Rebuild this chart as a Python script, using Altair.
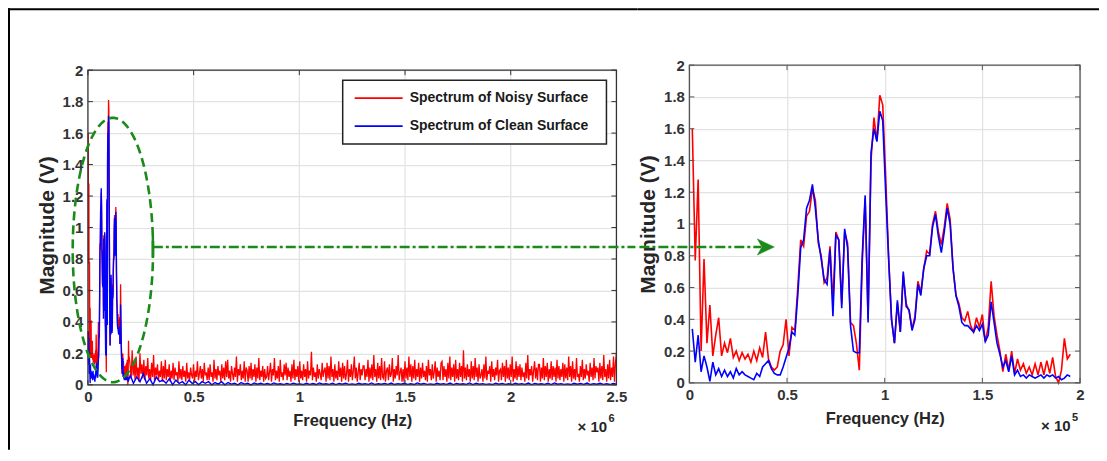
import altair as alt
import numpy as np
import pandas as pd

# ---------------- data ----------------
SERIES = ["Spectrum of Noisy Surface", "Spectrum of Clean Surface"]
COLORS = ["#ff0000", "#0000ff"]

# zoomed spectrum (right panel), frequency bins of 0.015 x10^5 Hz
ZOOM_STEP = 0.015
RED_ZOOM = [
    1.60, 0.77, 1.28, 0.20, 0.78, 0.25, 0.49, 0.17, 0.30, 0.41,
    0.17, 0.25, 0.19, 0.28, 0.16, 0.20, 0.14, 0.19, 0.15, 0.18,
    0.13, 0.20, 0.14, 0.22, 0.16, 0.32, 0.15, 0.10, 0.08, 0.10,
    0.20, 0.24, 0.40, 0.17, 0.35, 0.33, 0.60, 0.90, 0.86, 1.05,
    1.08, 1.22, 1.15, 0.88, 0.80, 0.63, 0.66, 0.86, 0.50, 0.95,
    0.90, 0.50, 0.95, 0.88, 0.38, 0.36, 0.25, 0.08, 0.75, 1.16,
    0.40, 1.40, 1.67, 1.52, 1.81, 1.75, 1.30, 0.80, 0.40, 0.25,
    0.50, 0.32, 0.68, 0.50, 0.45, 0.34, 0.42, 0.64, 0.57, 0.72,
    0.83, 0.81, 1.00, 1.08, 0.95, 0.87, 0.98, 1.13, 1.03, 0.72,
    0.55, 0.50, 0.41, 0.39, 0.45, 0.36, 0.32, 0.41, 0.35, 0.43,
    0.26, 0.35, 0.64, 0.42, 0.30, 0.20, 0.07, 0.18, 0.08, 0.20,
    0.06, 0.15, 0.08, 0.12, 0.06, 0.10, 0.05, 0.12, 0.05, 0.13,
    0.05, 0.14, 0.06, 0.16, 0.04, 0.00, 0.08, 0.28, 0.15, 0.18,
]
BLUE_ZOOM = [
    0.34, 0.13, 0.30, 0.07, 0.17, 0.10, 0.01, 0.13, 0.05, 0.09,
    0.04, 0.08, 0.04, 0.07, 0.03, 0.09, 0.05, 0.07, 0.05, 0.04,
    0.03, 0.02, 0.06, 0.04, 0.10, 0.12, 0.14, 0.09, 0.06, 0.05,
    0.05, 0.10, 0.16, 0.22, 0.32, 0.30, 0.55, 0.85, 0.90, 1.10,
    1.15, 1.25, 1.10, 0.90, 0.78, 0.65, 0.62, 0.84, 0.42, 0.93,
    0.90, 0.47, 0.97, 0.85, 0.36, 0.20, 0.19, 0.19, 0.80, 1.18,
    0.38, 1.45, 1.60, 1.52, 1.71, 1.65, 1.20, 0.78, 0.40, 0.25,
    0.52, 0.32, 0.70, 0.48, 0.46, 0.33, 0.40, 0.62, 0.55, 0.72,
    0.80, 0.80, 0.98, 1.06, 0.92, 0.82, 0.95, 1.10, 1.00, 0.72,
    0.55, 0.48, 0.38, 0.36, 0.36, 0.34, 0.32, 0.36, 0.33, 0.37,
    0.26, 0.30, 0.51, 0.38, 0.25, 0.18, 0.10, 0.14, 0.07, 0.17,
    0.05, 0.08, 0.04, 0.05, 0.03, 0.05, 0.04, 0.03, 0.04, 0.05,
    0.03, 0.05, 0.04, 0.05, 0.03, 0.04, 0.02, 0.03, 0.05, 0.04,
]

# full-band spectrum above 0.2 x10^6 Hz (left panel)
TAIL_START, TAIL_END = 0.2, 2.5
RED_TAIL = [
    0.12, 0.04, 0.22, 0.06, 0.15, 0.03, 0.18, 0.05, 0.11, 0.02, 0.20, 0.07, 0.13, 0.04, 0.16, 0.03, 0.12, 0.06, 0.17, 0.04,
    0.10, 0.03, 0.14, 0.05, 0.19, 0.02, 0.11, 0.06, 0.13, 0.03, 0.09, 0.05, 0.15, 0.02, 0.12, 0.04, 0.16, 0.03, 0.10, 0.05,
    0.13, 0.02, 0.09, 0.04, 0.14, 0.03, 0.11, 0.06, 0.08, 0.02, 0.15, 0.04, 0.10, 0.03, 0.12, 0.05, 0.09, 0.02, 0.14, 0.04,
    0.08, 0.03, 0.11, 0.06, 0.04, 0.13, 0.02, 0.09, 0.05, 0.15, 0.03, 0.07, 0.12, 0.04, 0.10, 0.02, 0.14, 0.06, 0.08, 0.03,
    0.11, 0.03, 0.13, 0.05, 0.08, 0.02, 0.16, 0.04, 0.10, 0.03, 0.12, 0.06, 0.09, 0.02, 0.13, 0.04, 0.11, 0.03, 0.15, 0.05,
    0.16, 0.04, 0.09, 0.02, 0.12, 0.07, 0.03, 0.11, 0.05, 0.18, 0.02, 0.10, 0.06, 0.13, 0.03, 0.09, 0.04, 0.15, 0.02, 0.11,
    0.09, 0.02, 0.12, 0.04, 0.14, 0.03, 0.10, 0.05, 0.13, 0.02, 0.11, 0.04, 0.17, 0.03, 0.09, 0.05, 0.12, 0.02, 0.10, 0.04,
    0.05, 0.12, 0.03, 0.08, 0.14, 0.02, 0.10, 0.06, 0.17, 0.03, 0.09, 0.04, 0.12, 0.02, 0.16, 0.05, 0.08, 0.03, 0.13, 0.06,
    0.14, 0.03, 0.11, 0.05, 0.09, 0.02, 0.13, 0.04, 0.16, 0.03, 0.10, 0.05, 0.12, 0.02, 0.15, 0.04, 0.09, 0.03, 0.13, 0.05,
    0.10, 0.02, 0.15, 0.04, 0.09, 0.06, 0.21, 0.03, 0.11, 0.05, 0.08, 0.02, 0.13, 0.04, 0.10, 0.07, 0.03, 0.14, 0.05, 0.09,
    0.11, 0.02, 0.14, 0.04, 0.12, 0.03, 0.18, 0.05, 0.10, 0.02, 0.13, 0.04, 0.09, 0.03, 0.15, 0.05, 0.11, 0.02, 0.14, 0.04,
    0.12, 0.03, 0.07, 0.16, 0.02, 0.10, 0.05, 0.13, 0.03, 0.09, 0.18, 0.04, 0.11, 0.02, 0.08, 0.14, 0.03, 0.10, 0.06, 0.12,
    0.12, 0.03, 0.10, 0.05, 0.16, 0.02, 0.11, 0.04, 0.13, 0.03, 0.19, 0.05, 0.10, 0.02, 0.14, 0.04, 0.12, 0.03, 0.17, 0.05,
    0.04, 0.15, 0.02, 0.09, 0.11, 0.03, 0.13, 0.05, 0.07, 0.17, 0.02, 0.10, 0.04, 0.12, 0.06, 0.19, 0.03, 0.08, 0.11, 0.02,
    0.10, 0.02, 0.15, 0.04, 0.11, 0.03, 0.18, 0.05, 0.13, 0.02, 0.12, 0.04, 0.16, 0.03, 0.10, 0.05, 0.14, 0.02, 0.11, 0.04,
    0.14, 0.05, 0.09, 0.03, 0.12, 0.02, 0.16, 0.06, 0.10, 0.03, 0.13, 0.04, 0.08, 0.15, 0.02, 0.11, 0.05, 0.09, 0.03, 0.14,
    0.15, 0.03, 0.12, 0.05, 0.10, 0.02, 0.14, 0.04, 0.18, 0.03, 0.11, 0.05, 0.13, 0.02, 0.16, 0.04, 0.10, 0.03, 0.14, 0.05,
    0.12, 0.02, 0.22, 0.04, 0.11, 0.03, 0.13, 0.05, 0.10, 0.02, 0.15, 0.04, 0.12, 0.03, 0.17, 0.05, 0.11, 0.02, 0.13, 0.04,
    0.06, 0.10, 0.02, 0.13, 0.04, 0.18, 0.03, 0.09, 0.07, 0.12, 0.02, 0.15, 0.05, 0.10, 0.03, 0.11, 0.06, 0.16, 0.02, 0.09,
    0.10, 0.03, 0.14, 0.05, 0.12, 0.02, 0.16, 0.04, 0.11, 0.03, 0.13, 0.05, 0.18, 0.02, 0.10, 0.04, 0.15, 0.03, 0.12, 0.05,
    0.13, 0.03, 0.11, 0.05, 0.08, 0.02, 0.14, 0.04, 0.19, 0.03, 0.10, 0.06, 0.12, 0.02, 0.09, 0.15, 0.04, 0.11, 0.03, 0.13,
    0.13, 0.02, 0.11, 0.04, 0.17, 0.03, 0.12, 0.05, 0.14, 0.02, 0.10, 0.04, 0.15, 0.03, 0.12, 0.05, 0.11, 0.02, 0.16, 0.04,
    0.12, 0.03, 0.10, 0.05, 0.14, 0.02, 0.13, 0.04, 0.11, 0.03, 0.18, 0.05, 0.12, 0.02, 0.15, 0.04, 0.10, 0.03, 0.17, 0.05,
    0.07, 0.02, 0.12, 0.05, 0.16, 0.03, 0.10, 0.04, 0.13, 0.06, 0.09, 0.02, 0.14, 0.05, 0.11, 0.03, 0.17, 0.04, 0.12, 0.08,
    0.11, 0.02, 0.14, 0.04, 0.12, 0.03, 0.19, 0.05, 0.10, 0.02, 0.13, 0.04, 0.16, 0.03, 0.11, 0.05, 0.18, 0.02, 0.14, 0.20,
]
BLUE_TAIL = [
    0.06, 0.01, 0.05, 0.02, 0.07, 0.01, 0.04, 0.00, 0.05, 0.02, 0.03, 0.01, 0.04, 0.00, 0.03, 0.01, 0.02, 0.00, 0.03, 0.01,
    0.02, 0.00, 0.02, 0.01, 0.02, 0.00, 0.015, 0.005, 0.02, 0.00, 0.015, 0.005, 0.01, 0.00, 0.015, 0.005, 0.01, 0.00, 0.012, 0.004,
    0.010, 0.003, 0.008, 0.002, 0.012, 0.004, 0.007, 0.002, 0.009, 0.003, 0.011, 0.004, 0.006, 0.002, 0.010, 0.003, 0.008, 0.002, 0.012, 0.004,
    0.007, 0.003, 0.010, 0.002, 0.009, 0.004, 0.011, 0.003, 0.006, 0.002, 0.010, 0.004, 0.008, 0.003, 0.012, 0.002, 0.007, 0.004, 0.009, 0.003,
    0.011, 0.002, 0.008, 0.004, 0.010, 0.003, 0.007, 0.002, 0.012, 0.004, 0.009, 0.003, 0.006, 0.002, 0.010, 0.004, 0.008, 0.003, 0.011, 0.002,
    0.009, 0.004, 0.007, 0.003, 0.012, 0.002, 0.010, 0.004, 0.008, 0.003, 0.006, 0.002, 0.011, 0.004, 0.009, 0.003, 0.007, 0.002, 0.010, 0.004,
    0.008, 0.003, 0.011, 0.002, 0.009, 0.004, 0.007, 0.003, 0.010, 0.002, 0.012, 0.004, 0.008, 0.003, 0.006, 0.002, 0.010, 0.004, 0.009, 0.003,
    0.011, 0.002, 0.008, 0.004, 0.010, 0.003, 0.007, 0.002, 0.009, 0.004,
]

Y_TICKS = [0, 0.2, 0.4, 0.6, 0.8, 1, 1.2, 1.4, 1.6, 1.8, 2]
LEFT_X_TICKS = [0, 0.5, 1, 1.5, 2, 2.5]
RIGHT_X_TICKS = [0, 0.5, 1, 1.5, 2]

# ---------------- style ----------------
FONT = "Liberation Sans"
INK = "#333333"
GRID = "#e2e2e2"
GREEN = "#1a8a1a"

W_L, H_L = 529, 320
PX_PER_V_L = 157.5
Y_TOP_L = H_L / PX_PER_V_L
W_R, H_R = 391, 318
TICK_PX = 5

xl = alt.Scale(domain=[0, 2.5], nice=False, zero=False)
yl = alt.Scale(domain=[0, Y_TOP_L], nice=False, zero=False)
xr = alt.Scale(domain=[0, 2], nice=False, zero=False)
yr = alt.Scale(domain=[0, 2], nice=False, zero=False)
cs = alt.Scale(domain=SERIES, range=COLORS)

# ---------------- frames ----------------
n = len(RED_ZOOM)
zoom_f = [(i + 1) * ZOOM_STEP for i in range(n)]
right_df = pd.DataFrame({
    "f": zoom_f + zoom_f,
    "mag": RED_ZOOM + BLUE_ZOOM,
    "series": [SERIES[0]] * n + [SERIES[1]] * n,
})
red_tail_f = list(np.linspace(TAIL_START, TAIL_END, len(RED_TAIL)))
blue_tail_f = list(np.linspace(TAIL_START, TAIL_END, len(BLUE_TAIL)))
zoom_f_m = [f / 10 for f in zoom_f]  # x10^5 -> x10^6
left_df = pd.DataFrame({
    "f": zoom_f_m + red_tail_f + zoom_f_m + blue_tail_f,
    "mag": RED_ZOOM + RED_TAIL + BLUE_ZOOM + BLUE_TAIL,
    "series": [SERIES[0]] * (n + len(RED_TAIL)) + [SERIES[1]] * (n + len(BLUE_TAIL)),
})


def y_axis():
    return alt.Axis(values=Y_TICKS, format=".1~f", title="Magnitude (V)", grid=True,
                    gridColor=GRID, gridWidth=1.2, domain=False, ticks=False, tickSize=0,
                    labelPadding=5, labelFont=FONT, labelFontSize=15, labelFontWeight="bold",
                    labelColor=INK, titleFont=FONT, titleFontSize=21, titleFontWeight="bold",
                    titleColor="#262626", titlePadding=5)


def x_axis(values, grid):
    return alt.Axis(values=values, format=".1~f", title="Frequency (Hz)", grid=grid,
                    gridColor=GRID, gridWidth=1.2, domain=False, ticks=False, tickSize=0,
                    labelFlush=False, labelPadding=5, labelFont=FONT, labelFontSize=15,
                    labelFontWeight="bold", labelColor=INK, titleFont=FONT, titleFontSize=16.5,
                    titleFontWeight="bold", titleColor="#262626", titlePadding=8)


XAX_L, YAX_L = x_axis(LEFT_X_TICKS, False), y_axis()
XAX_R, YAX_R = x_axis(RIGHT_X_TICKS, True), y_axis()


def lines(df, name, xs, ys, xax, yax, sw):
    return alt.Chart(df).transform_filter(alt.datum.series == name).mark_line(
        strokeWidth=sw).encode(
        x=alt.X("f:Q", scale=xs, axis=xax),
        y=alt.Y("mag:Q", scale=ys, axis=yax),
        color=alt.Color("series:N", scale=cs, legend=None),
    )


def box_and_ticks(xs, ys, xax, yax, xmax, xticks, w, h_px_per_unit, stroke):
    dx = TICK_PX * xmax / w
    dy = TICK_PX / h_px_per_unit
    rows = []
    for v in xticks:
        rows.append((v, v, 0, dy))
        rows.append((v, v, 2 - dy, 2))
    for v in Y_TICKS:
        rows.append((0, dx, v, v))
        rows.append((xmax - dx, xmax, v, v))
    seg = pd.DataFrame(rows, columns=["x", "x2", "y", "y2"])
    ticks = alt.Chart(seg).mark_rule(color=stroke, strokeWidth=1).encode(
        x=alt.X("x:Q", scale=xs, axis=xax), x2="x2:Q",
        y=alt.Y("y:Q", scale=ys, axis=yax), y2="y2:Q")
    box = alt.Chart(pd.DataFrame({"x": [0], "x2": [xmax], "y": [0], "y2": [2]})).mark_rect(
        fillOpacity=0, stroke=stroke, strokeWidth=1.3).encode(
        x=alt.X("x:Q", scale=xs, axis=xax), x2="x2:Q",
        y=alt.Y("y:Q", scale=ys, axis=yax), y2="y2:Q")
    return [box, ticks]


def one():
    return alt.Chart(pd.DataFrame({"a": [0]}))


def pix_rect(x, x2, y, y2, color="black"):
    return one().mark_rect(color=color).encode(
        x=alt.value(x), x2=alt.value(x2), y=alt.value(y), y2=alt.value(y2))


def pix_text(txt, x, y, size, weight="bold", color="#262626"):
    return one().mark_text(
        text=txt, align="left", baseline="alphabetic", font=FONT, fontSize=size,
        fontWeight=weight, color=color).encode(x=alt.value(x), y=alt.value(y))


# ---------------- left panel ----------------
vgrid = pd.DataFrame({"x": LEFT_X_TICKS[1:-1], "y": [0] * 4, "y2": [2] * 4})
left_grid = alt.Chart(vgrid).mark_rule(color=GRID, strokeWidth=1.2).encode(
    x=alt.X("x:Q", scale=xl, axis=XAX_L), y=alt.Y("y:Q", scale=yl, axis=YAX_L), y2="y2:Q")

left_red = lines(left_df, SERIES[0], xl, yl, XAX_L, YAX_L, 1.3)
left_blue = lines(left_df, SERIES[1], xl, yl, XAX_L, YAX_L, 1.4)

t = np.linspace(0, 2 * np.pi, 181)
ell = pd.DataFrame({"x": 0.118 + 0.19 * np.cos(t), "y": 0.857 + 0.84 * np.sin(t), "k": range(len(t))})
ellipse = alt.Chart(ell).mark_line(color=GREEN, strokeWidth=2.6, strokeDash=[9, 5]).encode(
    x=alt.X("x:Q", scale=xl, axis=XAX_L), y=alt.Y("y:Q", scale=yl, axis=YAX_L), order="k:Q")

ARROW_Y = 182
arrow_l = one().mark_rule(color=GREEN, strokeWidth=2.5, strokeDash=[10, 3, 3, 3]).encode(
    x=alt.value(65), x2=alt.value(548), y=alt.value(ARROW_Y))
arrow_tail = one().mark_rule(color=GREEN, strokeWidth=2.5).encode(
    x=alt.value(65), y=alt.value(171), y2=alt.value(193))

legend_box = one().mark_rect(fill="white", stroke="#222222", strokeWidth=1.5).encode(
    x=alt.value(255), x2=alt.value(519), y=alt.value(15), y2=alt.value(79))
legend_items = []
for name, ypix in zip(SERIES, [33, 61]):
    d = pd.DataFrame({"series": [name]})
    legend_items.append(alt.Chart(d).mark_rule(strokeWidth=1.6).encode(
        x=alt.value(267), x2=alt.value(315), y=alt.value(ypix),
        color=alt.Color("series:N", scale=cs, legend=None)))
    legend_items.append(alt.Chart(d).mark_text(
        align="left", baseline="middle", font=FONT, fontSize=14, fontWeight="bold",
        color="#1a1a1a").encode(x=alt.value(322), y=alt.value(ypix), text="series:N"))

left = alt.layer(
    left_grid, left_red, left_blue,
    *box_and_ticks(xl, yl, XAX_L, YAX_L, 2.5, LEFT_X_TICKS, W_L, PX_PER_V_L, INK),
    ellipse, arrow_l, arrow_tail, legend_box, *legend_items,
    pix_text("× 10", 490, 367, 15), pix_text("6", 521, 357, 11),
    pix_rect(-80, 550, -57, -55), pix_rect(-80, -78, -57, 385),
).properties(width=W_L, height=H_L)

# ---------------- right panel ----------------
right_red = lines(right_df, SERIES[0], xr, yr, XAX_R, YAX_R, 1.6)
right_blue = lines(right_df, SERIES[1], xr, yr, XAX_R, YAX_R, 1.6)

arrow_r = one().mark_rule(color=GREEN, strokeWidth=2.5, strokeDash=[10, 3, 3, 3]).encode(
    x=alt.value(-50), x2=alt.value(72), y=alt.value(ARROW_Y))
arrow_head = one().mark_point(
    shape="M1,0L-1,-0.95L-0.45,0L-1,0.95Z", filled=True, fill=GREEN, stroke=GREEN,
    strokeWidth=0.5, opacity=1, size=289).encode(x=alt.value(76.5), y=alt.value(ARROW_Y))

right = alt.layer(
    right_red, right_blue,
    *box_and_ticks(xr, yr, XAX_R, YAX_R, 2, RIGHT_X_TICKS, W_R, H_R / 2, "#555555"),
    arrow_r, arrow_head,
    pix_text("× 10", 352, 366, 15), pix_text("5", 383, 356, 11),
    pix_rect(-52, 410, -57, -55),
).properties(width=W_R, height=H_R)

chart = alt.hconcat(left, right, spacing=0).properties(
    padding=0, background="white"
).configure_view(stroke=None)

chart.save("out.html", embed_options={"renderer": "svg", "actions": False})
